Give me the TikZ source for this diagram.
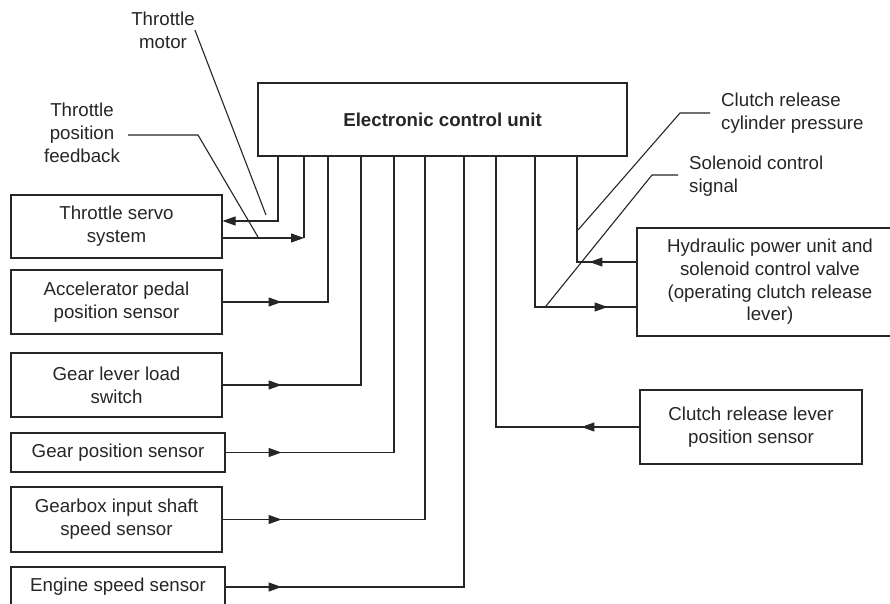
\documentclass[tikz,border=0pt]{standalone}
\usepackage{fontspec}
\setmainfont{Liberation Sans}
\usetikzlibrary{arrows.meta,decorations.markings,calc}
\definecolor{ink}{HTML}{262626}
\newcommand{\diagfont}{\fontsize{18.7}{22.7}\selectfont}
\tikzset{
  ln/.style={line width=1.1pt, draw=ink},
  box/.style={draw=ink, line width=1.1pt, align=center, inner sep=0pt, text=ink, font=\diagfont},
  lbl/.style={inner sep=0pt, text=ink, font=\diagfont},
  midarrow/.style={postaction={decorate},
    decoration={markings, mark=at position #1 with {\arrow{Triangle[length=13pt,width=9pt]}}}},
  tip/.style={-{Triangle[length=13pt,width=9pt]}}
}
\begin{document}
\begin{tikzpicture}[x=1pt,y=-1pt]
\fill[white] (0,0) rectangle (890,604);
\useasboundingbox (0,0) rectangle (890,604);

% boxes
\node[box, minimum width=369pt, minimum height=73pt, font=\diagfont\bfseries] (ecu) at (442.5,119.5) {Electronic control unit};
\node[box, minimum width=211pt, minimum height=63pt] (servo) at (116.5,226.5) {Throttle servo\\system};
\node[box, minimum width=211pt, minimum height=64pt] (acc) at (116.5,302) {Accelerator pedal\\position sensor};
\node[box, minimum width=211pt, minimum height=64pt] (glv) at (116.5,385) {Gear lever load\\switch};
\node[box, minimum width=214pt, minimum height=39pt] (gps) at (118,452.5) {Gear position sensor};
\node[box, minimum width=211pt, minimum height=65pt] (gis) at (116.5,519.5) {Gearbox input shaft\\speed sensor};
\node[box, minimum width=214pt, minimum height=40pt] (ess) at (118,587) {Engine speed sensor};
\node[box, minimum width=266pt, minimum height=108pt] (hyd) at (770,282) {Hydraulic power unit and\\solenoid control valve\\(operating clutch release\\lever)};
\node[box, minimum width=222pt, minimum height=74pt] (crl) at (751,427) {Clutch release lever\\position sensor};

% labels
\node[lbl, align=center] (tm) at (163,30) {Throttle\\motor};
\node[lbl, align=center] (tpf) at (82,133) {Throttle\\position\\feedback};
\node[lbl, align=left, anchor=west] (crp) at (721,113.5) {Clutch release\\cylinder pressure};
\node[lbl, align=left, anchor=west] (scs) at (689,176) {Solenoid control\\signal};

% coordinates
\coordinate (tmEnd) at (266,215);
\coordinate (tpfA) at (128,135);
\coordinate (tpfB) at (198,135);
\coordinate (tpfEnd) at (258,237);
\coordinate (crpA) at (710,113);
\coordinate (crpB) at (680,113);
\coordinate (crpEnd) at (578,230);
\coordinate (scsA) at (678,175);
\coordinate (scsB) at (652,175);
\coordinate (scsEnd) at (546,306);
\coordinate (fb) at (304,238);

% connectors
\draw[ln, tip] (ecu.south -| 278,0) |- (servo.east |- 0,221);
\draw[ln, tip] (servo.east |- 0,238) -- (fb);
\draw[ln] (fb) -- (ecu.south -| fb);
\draw[ln, midarrow=59pt] (acc.east) -| (ecu.south -| 328,0);
\draw[ln, midarrow=59pt] (glv.east) -| (ecu.south -| 361,0);
\draw[ln, midarrow=56pt] (gps.east) -| (ecu.south -| 394,0);
\draw[ln, midarrow=59pt] (gis.east) -| (ecu.south -| 425,0);
\draw[ln, midarrow=56pt] (ess.east) -| (ecu.south -| 464,0);
\draw[ln, midarrow=58pt] (crl.west) -| (ecu.south -| 496,0);
\draw[ln, midarrow=47pt] (hyd.west |- 0,262) -| (ecu.south -| 577,0);
\draw[ln, midarrow=223pt] (ecu.south -| 535,0) |- (hyd.west |- 0,307);

% label leaders
\draw[ln] (tm.east) -- (tmEnd);
\draw[ln] (tpfA) -- (tpfB) -- (tpfEnd);
\draw[ln] (crpA) -- (crpB) -- (crpEnd);
\draw[ln] (scsA) -- (scsB) -- (scsEnd);
\end{tikzpicture}
\end{document}
